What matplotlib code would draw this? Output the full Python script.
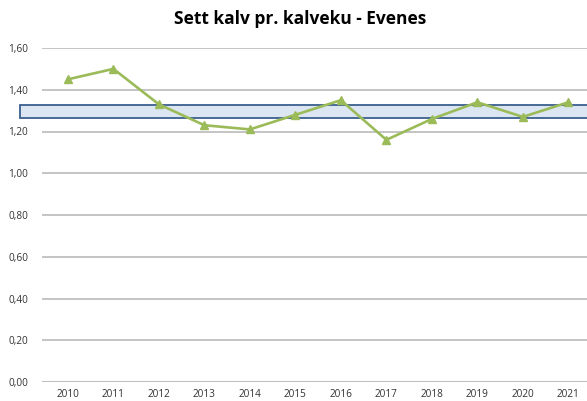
import matplotlib.pyplot as plt
from matplotlib.patches import Rectangle

years = ["2010", "2011", "2012", "2013", "2014", "2015",
         "2016", "2017", "2018", "2019", "2020", "2021"]
calves = [1.45, 1.50, 1.33, 1.23, 1.21, 1.28, 1.35, 1.16, 1.26, 1.34, 1.27, 1.34]
band_low, band_high = 1.265, 1.325
yticks = [0.0, 0.2, 0.4, 0.6, 0.8, 1.0, 1.2, 1.4, 1.6]

plt.rcParams['font.family'] = ['Open Sans', 'DejaVu Sans']

fig = plt.figure(figsize=(5.87, 4.01), dpi=100)
# axes in pixel terms: left 42, right 587, top 48, bottom 382
ax = fig.add_axes([42 / 587, 1 - 382 / 401, 545 / 587, 334 / 401])

x = list(range(len(years)))
ax.set_xlim(-0.57, 11.41)
ax.set_ylim(0, 1.6)

for y in yticks:
    ax.axhline(y, color="#BFBFBF", lw=1.3 if y > 0 else 2.2, zorder=1)

# blue target band (extends to the left of the plot area)
x0 = ax.get_xlim()[0] - 22 / 545 * (ax.get_xlim()[1] - ax.get_xlim()[0])
band = Rectangle((x0, band_low), 20, band_high - band_low,
                 facecolor="#DCE6F2", edgecolor="#3A5F8F", lw=1.3,
                 zorder=2, clip_on=False)
ax.add_patch(band)

ax.plot(x, calves, color="#9BBB59", lw=1.9, marker="^", markersize=5.5,
        markeredgecolor="#9BBB59", zorder=3)

ax.set_xticks(x)
ax.set_xticklabels(years, fontsize=7.2, color="#333333")
ax.set_yticks(yticks)
ax.set_yticklabels([f"{v:.2f}".replace(".", ",") for v in yticks],
                   fontsize=7.2, color="#333333")
ax.tick_params(length=0, pad=5)
ax.tick_params(axis="y", pad=10)
for s in ax.spines.values():
    s.set_visible(False)

fig.text(300 / 587, 1 - 19 / 401, "Sett kalv pr. kalveku - Evenes",
         ha="center", va="center", fontsize=12.5, fontweight="bold")

fig.savefig("out.png", dpi=100)
